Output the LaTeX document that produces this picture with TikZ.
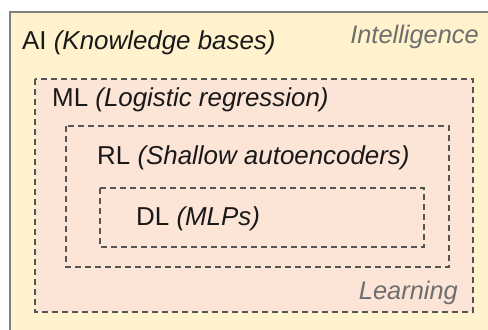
\documentclass[tikz,border=0pt]{standalone}
\usepackage{fontspec}
\setmainfont{Liberation Sans}
\definecolor{outerfill}{RGB}{255,242,204}
\definecolor{innerfill}{RGB}{252,228,214}
\definecolor{outerline}{RGB}{128,128,128}
\definecolor{dashline}{RGB}{85,85,85}
\definecolor{labelgray}{RGB}{110,110,110}
\tikzset{
  outerbox/.style={draw=outerline, line width=1.5bp, fill=outerfill},
  dashbox/.style={draw=dashline, line width=1.2bp, dash pattern=on 6bp off 4bp, fill=innerfill},
  lbl/.style={anchor=base west, inner sep=0pt, font=\fontsize{26}{30}\selectfont, text=black!90},
  tag/.style={inner sep=0pt, font=\fontsize{25.5}{30}\selectfont\itshape, text=labelgray},
}
\begin{document}
\begin{tikzpicture}[x=1bp,y=-1bp]
\useasboundingbox (0,0) rectangle (488,329);
\clip (0,0) rectangle (488,329);
\fill[white] (0,0) rectangle (488,329);
\draw[outerbox] (10,12) rectangle (500,345);
\draw[dashbox] (35,79) rectangle (473,312);
\draw[dashbox] (66,126) rectangle (449,267);
\draw[dashbox] (100,188) rectangle (424,247);
\node[lbl] (ai) at (22,49) {AI \textit{(Knowledge bases)}};
\node[tag, anchor=base east] (intel) at (479,43) {Intelligence};
\node[lbl] (ml) at (52,106) {ML \textit{(Logistic regression)}};
\node[lbl] (rl) at (97,164) {RL \textit{(Shallow autoencoders)}};
\node[lbl] (dl) at (136,225) {DL \textit{(MLPs)}};
\node[tag, anchor=base east] (learn) at (458,299) {Learning};
\end{tikzpicture}
\end{document}
